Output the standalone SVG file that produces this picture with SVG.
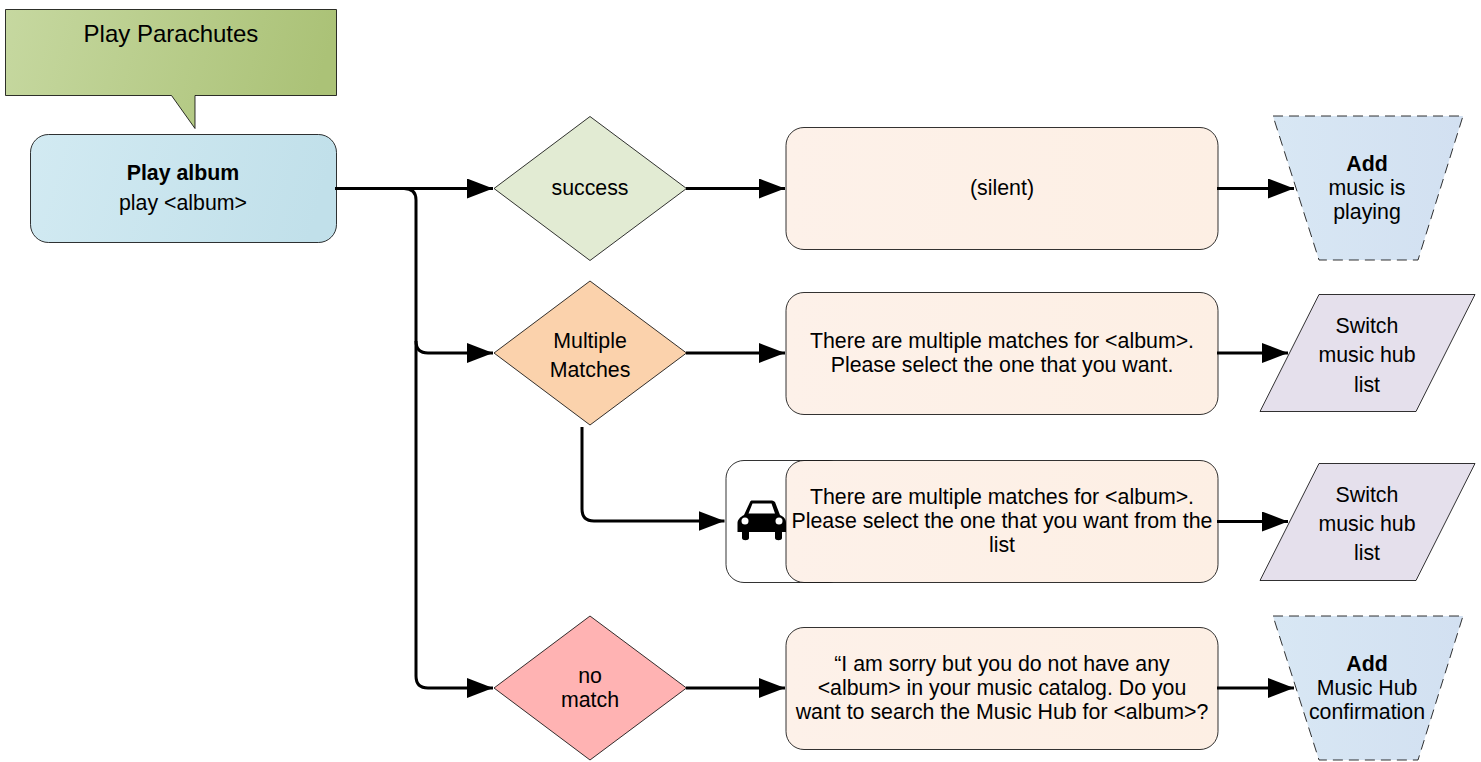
<svg xmlns="http://www.w3.org/2000/svg" width="1481" height="762" viewBox="0 0 1481 762">
<style>
text{font-family:"Liberation Sans",Arial,sans-serif;font-size:21.33px;fill:#000;text-anchor:middle}
.b{font-weight:bold}
.s{stroke:#000;stroke-width:1;stroke-opacity:.8}
.c{fill:none;stroke:#000;stroke-width:3;stroke-linejoin:round}
.d{stroke-dasharray:10 6}
</style>
<defs>
<linearGradient id="g1" x1="0" y1="0" x2="1" y2=".1"><stop offset="0" stop-color="#c6d8a0"/><stop offset="1" stop-color="#abc277"/></linearGradient>
<linearGradient id="g2" x1="0" y1="0" x2="1" y2=".1"><stop offset="0" stop-color="#d2eaf2"/><stop offset="1" stop-color="#c1e0ea"/></linearGradient>
<linearGradient id="g3" x1="0" y1="0" x2="1" y2="0"><stop offset="0" stop-color="#fdf1e9"/><stop offset="1" stop-color="#fdefe4"/></linearGradient>
<linearGradient id="g4" x1="0" y1="0" x2="1" y2="0"><stop offset="0" stop-color="#d8e7f4"/><stop offset="1" stop-color="#d2e0f1"/></linearGradient>
<marker id="a" markerUnits="userSpaceOnUse" markerWidth="28" markerHeight="22" refX="26" refY="10" orient="auto"><path d="M0 0L26 10L0 20Z" fill="#000"/></marker>
</defs>
<g id="note"><path class="s" fill="url(#g1)" d="M5.500 9.500H336.500V95.500H195V128.500L171.500 95.500H5.500Z"/><text x="171" y="41.500" style="font-size:24px">Play Parachutes</text></g>
<g id="start"><rect class="s" fill="url(#g2)" x="30.500" y="134.500" width="306" height="108" rx="18"/><text class="b" x="183" y="180">Play album</text><text x="183" y="210">play &lt;album&gt;</text></g>
<g id="d1"><path class="s" fill="#e2ebd3" d="M590 116.500L686.500 188.500L590 260.500L494 188.500Z"/><text x="590" y="195">success</text></g>
<g id="d2"><path class="s" fill="#fbd2ac" d="M590 281L686.500 353L590 425L494 353Z"/><text x="590" y="348">Multiple</text><text x="590" y="377">Matches</text></g>
<g id="d3"><path class="s" fill="#ffb3b3" d="M590 616L686.500 688L590 760L494 688Z"/><text x="590" y="683">no</text><text x="590" y="707">match</text></g>
<g id="r1"><rect class="s" fill="url(#g3)" x="786" y="127.500" width="432" height="122" rx="18"/><text x="1002" y="195">(silent)</text></g>
<g id="r2"><rect class="s" fill="url(#g3)" x="786" y="292.500" width="432" height="122" rx="18"/><text x="1002" y="348">There are multiple matches for &lt;album&gt;.</text><text x="1002" y="372">Please select the one that you want.</text></g>
<g id="r3">
<rect class="s" fill="#fff" x="726" y="460.500" width="120" height="122" rx="18"/>
<path id="car" fill="#000" d="M750 502L744 515C740 517 737.500 520 737.500 523V532H742V538C742 541 749 541 749 538V532H775V538C775 541 782 541 782 538V532H786V523C786 519 784 517 780 515L775 502C774 501 773 500.500 772 500.500H752C751 500.500 750.500 501 750 502ZM752.500 503.500H771.500L775 513.500H748.500Z" fill-rule="evenodd"/>
<circle cx="745" cy="521" r="3.500" fill="#fff"/><circle cx="779" cy="521" r="3.500" fill="#fff"/>
<rect class="s" fill="url(#g3)" x="786" y="460.500" width="432" height="122" rx="18"/>
<text x="1002" y="504">There are multiple matches for &lt;album&gt;.</text><text x="1002" y="528">Please select the one that you want from the</text><text x="1002" y="552">list</text></g>
<g id="r4"><rect class="s" fill="url(#g3)" x="786" y="627.500" width="432" height="122" rx="18"/><text x="1002" y="671">“I am sorry but you do not have any</text><text x="1002" y="695">&lt;album&gt; in your music catalog. Do you</text><text x="1002" y="719">want to search the Music Hub for &lt;album&gt;?</text></g>
<g id="t1"><path class="s d" fill="url(#g4)" d="M1273 116H1463L1418 260H1319Z"/><text class="b" x="1367" y="171">Add</text><text x="1367" y="195">music is</text><text x="1367" y="219">playing</text></g>
<g id="p1"><path class="s" fill="#e5e0ec" d="M1319 294.500H1475L1416 411.500H1260Z"/><text x="1367" y="333">Switch</text><text x="1367" y="362">music hub</text><text x="1367" y="392">list</text></g>
<g id="p2"><path class="s" fill="#e5e0ec" d="M1319 463.500H1475L1416 580.500H1260Z"/><text x="1367" y="502">Switch</text><text x="1367" y="531">music hub</text><text x="1367" y="560">list</text></g>
<g id="t2"><path class="s d" fill="url(#g4)" d="M1273 616H1463L1418 760H1319Z"/><text class="b" x="1367" y="671">Add</text><text x="1367" y="695">Music Hub</text><text x="1367" y="719">confirmation</text></g>
<g id="connectors">
<path class="c" marker-end="url(#a)" d="M335 188.500H493"/>
<path class="c" marker-end="url(#a)" d="M335 188.500H404Q416 188.500 416 200V341Q416 353 428 353H493"/>
<path class="c" marker-end="url(#a)" d="M416 341V676Q416 688 428 688H493"/>
<path class="c" marker-end="url(#a)" d="M686 188.500H785"/>
<path class="c" marker-end="url(#a)" d="M686 353H785"/>
<path class="c" marker-end="url(#a)" d="M686 688H785"/>
<path class="c" marker-end="url(#a)" d="M582 427V509Q582 521 594 521H724.500"/>
<path class="c" marker-end="url(#a)" d="M1217 188.500H1294"/>
<path class="c" marker-end="url(#a)" d="M1217 353H1288"/>
<path class="c" marker-end="url(#a)" d="M1217 521.500H1288"/>
<path class="c" marker-end="url(#a)" d="M1217 688H1294"/>
</g>
</svg>
